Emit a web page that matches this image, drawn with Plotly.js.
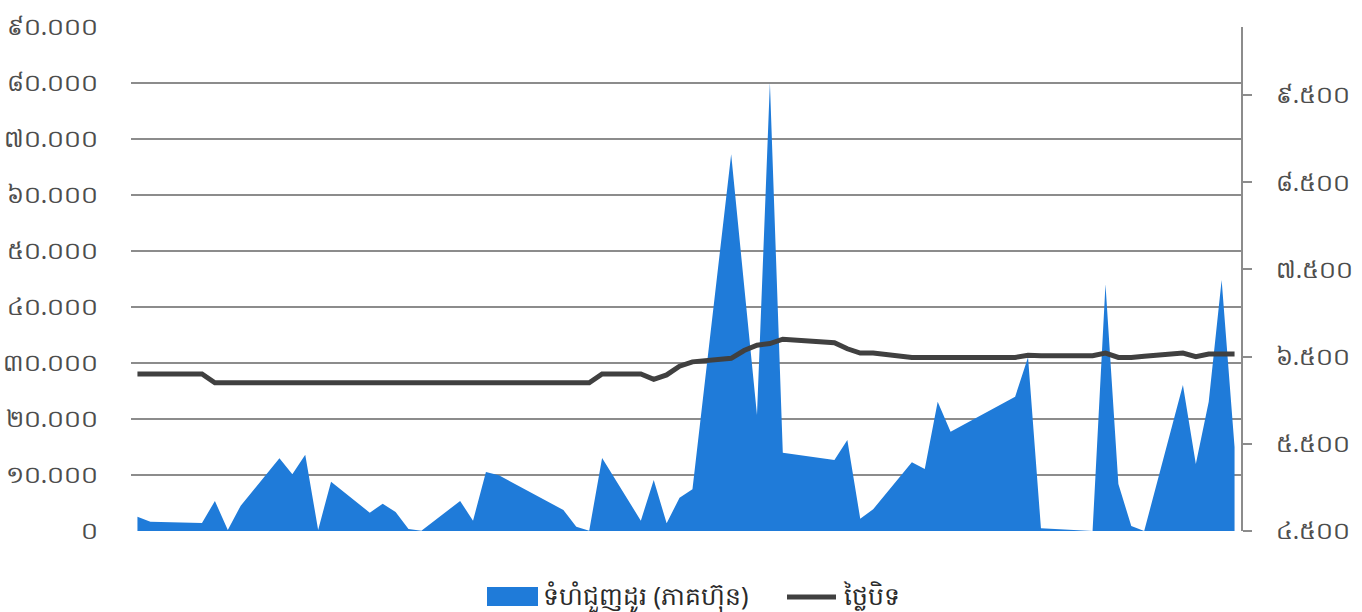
<!DOCTYPE html>
<html>
<head>
<meta charset="utf-8">
<script src="https://cdn.plot.ly/plotly-3.0.1.min.js"></script>
<style>
  html, body { margin: 0; padding: 0; background: #ffffff; }
  #chart { width: 1362px; height: 612px; }
</style>
</head>
<body>
<div id="chart"></div>
<script>
// Trading-day index of each observation (gaps = non-trading days)
const days = [0,1,5,6,7,8,11,12,13,14,15,18,19,20,21,22,25,26,27,28,33,34,35,36,39,40,41,42,43,46,47,48,49,50,54,55,56,57,60,61,62,63,68,69,70,74,75,76,77,78,81,82,83,84,85];

// Volume (shares)
const volume = [2550,1660,1430,5360,200,4520,12980,10120,13630,200,8800,3270,4880,3390,360,50,5360,1840,10540,9950,3750,770,50,13040,1840,9110,1370,5950,7440,67260,43930,20710,80050,13980,12680,16250,2200,3900,12270,11070,23090,17730,23990,31020,480,0,44050,8390,890,0,26070,11960,23090,44820,15000];

// Closing price
const closePrice = [6300,6300,6300,6200,6200,6200,6200,6200,6200,6200,6200,6200,6200,6200,6200,6200,6200,6200,6200,6200,6200,6200,6200,6300,6300,6240,6290,6390,6440,6480,6570,6630,6650,6700,6660,6590,6540,6540,6490,6490,6490,6490,6490,6515,6510,6510,6540,6490,6490,6505,6540,6500,6530,6530,6530];

const seriesNames = ['ទំហំជួញដូរ (ភាគហ៊ុន)', 'ថ្លៃបិទ'];

const leftTickVals = [0,10000,20000,30000,40000,50000,60000,70000,80000,90000];
const leftTickText = ['០','១០.០០០','២០.០០០','៣០.០០០','៤០.០០០','៥០.០០០','៦០.០០០','៧០.០០០','៨០.០០០','៩០.០០០'];
const rightTickVals = [4500,5500,6500,7500,8500,9500];
const rightTickText = ['៤.៥០០','៥.៥០០','៦.៥០០','៧.៥០០','៨.៥០០','៩.៥០០'];

const BLUE = '#1f7bd9';
const DARK = '#404040';
const GRID = '#8c8c8c';
const TICKC = '#4d4d4d';
const FONT = '"Noto Sans", Roboto, "DejaVu Sans", sans-serif';

const traces = [
  {
    x: days, y: volume, name: seriesNames[0],
    type: 'scatter', mode: 'none', fill: 'tozeroy',
    fillcolor: BLUE, hoverinfo: 'skip', yaxis: 'y'
  },
  {
    x: days, y: closePrice, name: seriesNames[1],
    type: 'scatter', mode: 'lines',
    line: { color: DARK, width: 5, shape: 'linear' },
    yaxis: 'y2'
  }
];

const L = 131, R = 1241, T = 27, B = 531;
const pw = R - L, ph = B - T;
const px = v => (v - L) / pw;
const py = v => (B - v) / ph;

const layout = {
  width: 1362, height: 612,
  margin: { l: L, r: 1362 - R, t: T, b: 612 - B, pad: 0 },
  paper_bgcolor: '#ffffff', plot_bgcolor: '#ffffff',
  showlegend: false,
  font: { family: FONT, size: 24, color: TICKC },
  xaxis: {
    range: [-0.5, 85.5], showticklabels: false, showgrid: false,
    zeroline: false, showline: false, ticks: ''
  },
  yaxis: {
    range: [0, 90000], tickvals: leftTickVals, ticktext: leftTickText,
    showgrid: true, gridcolor: GRID, gridwidth: 1.5,
    zeroline: false, showline: false,
    ticks: 'outside', ticklen: 27, tickcolor: 'rgba(0,0,0,0)',
    tickfont: { family: FONT, size: 24, color: TICKC }
  },
  yaxis2: {
    range: [4500, 10280], tickvals: rightTickVals, ticktext: rightTickText,
    overlaying: 'y', side: 'right', showgrid: false, zeroline: false,
    showline: true, linecolor: GRID, linewidth: 2,
    ticks: 'outside', ticklen: 9, tickcolor: GRID, tickwidth: 2,
    ticklabelstandoff: 19,
    tickfont: { family: FONT, size: 24, color: TICKC }
  },
  shapes: [
    { type: 'rect', xref: 'paper', yref: 'paper',
      x0: px(487), x1: px(538), y0: py(606), y1: py(587),
      fillcolor: BLUE, line: { width: 0 } },
    { type: 'line', xref: 'paper', yref: 'paper',
      x0: px(787), x1: px(836), y0: py(597), y1: py(597),
      line: { color: DARK, width: 5 } }
  ],
  annotations: [
    { xref: 'paper', yref: 'paper', x: px(541), y: py(595),
      xanchor: 'left', yanchor: 'middle', showarrow: false,
      text: seriesNames[0], font: { family: FONT, size: 25, color: '#2a2a2a' } },
    { xref: 'paper', yref: 'paper', x: px(841), y: py(595),
      xanchor: 'left', yanchor: 'middle', showarrow: false,
      text: seriesNames[1], font: { family: FONT, size: 25, color: '#2a2a2a' } }
  ]
};

Plotly.newPlot('chart', traces, layout, { displayModeBar: false, staticPlot: true });
</script>
</body>
</html>
